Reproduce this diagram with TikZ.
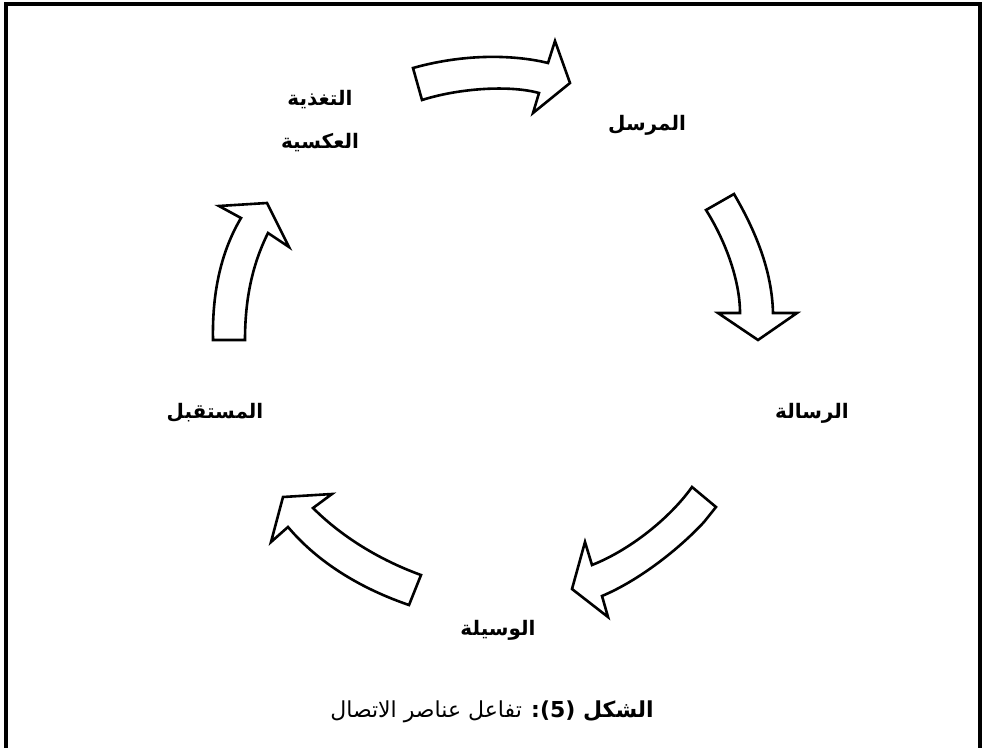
\documentclass[tikz,border=0pt]{standalone}
\usepackage{fontspec}
\newfontfamily\arabicfont[Script=Arabic]{DejaVu Sans}
\TeXXeTstate=1
\tikzset{
  flow/.style={draw=black, line width=2.6pt, line join=miter, fill=white},
  lbl/.style={font=\arabicfont\bfseries\fontsize{20}{24}\selectfont, inner sep=0pt, align=center},
  captiontext/.style={font=\arabicfont\fontsize{22}{26}\selectfont, inner sep=0pt}
}
\begin{document}
\begin{tikzpicture}[x=1pt,y=-1pt]
\useasboundingbox (0,0) rectangle (982,747);
% frame
\draw[line width=4pt] (6,760) -- (6,4) -- (980,4) -- (980,760);
% arrows
\draw[flow] (413,68) .. controls (470,52) and (520,56) .. (548,63) -- (555,41) -- (570,83) -- (533,113) -- (539,93) .. controls (510,85) and (460,88) .. (422,100) -- cycle;
\draw[flow] (706,210) .. controls (725,240) and (740,280) .. (740,313) -- (718,313) -- (758,340) -- (797,313) -- (773,313) .. controls (772,270) and (755,230) .. (734,194) -- cycle;
\draw[flow] (692,487) -- (716,507) -- (704,522) .. controls (680,548) and (640,580) .. (602,596) -- (608,617) -- (572,589) -- (585,542) -- (592,565) .. controls (630,550) and (670,518) .. (692,487) -- cycle;
\draw[flow] (283,497) -- (332,494) -- (313,508) .. controls (345,540) and (385,562) .. (421,575) -- (409,605) .. controls (365,590) and (320,565) .. (288,527) -- (271,542) -- cycle;
\draw[flow] (213,340) .. controls (212,290) and (222,250) .. (241,218) -- (219,206) -- (267,203) -- (289,247) -- (268,233) .. controls (252,265) and (245,300) .. (245,340) -- cycle;
% labels
\node[lbl] (sender) at (647,125) {\beginR المرسل\endR};
\node[lbl] (message) at (812,413) {\beginR الرسالة\endR};
\node[lbl] (medium) at (498,630) {\beginR الوسيلة\endR};
\node[lbl] (receiver) at (215,413) {\beginR المستقبل\endR};
\node[lbl] (feedback1) at (320,100) {\beginR التغذية\endR};
\node[lbl] (feedback2) at (320,143) {\beginR العكسية\endR};
\node[captiontext] (caption) at (492,712) {\beginR{\bfseries الشكل \beginL(5)\endL:} تفاعل عناصر الاتصال\endR};
\end{tikzpicture}
\end{document}
